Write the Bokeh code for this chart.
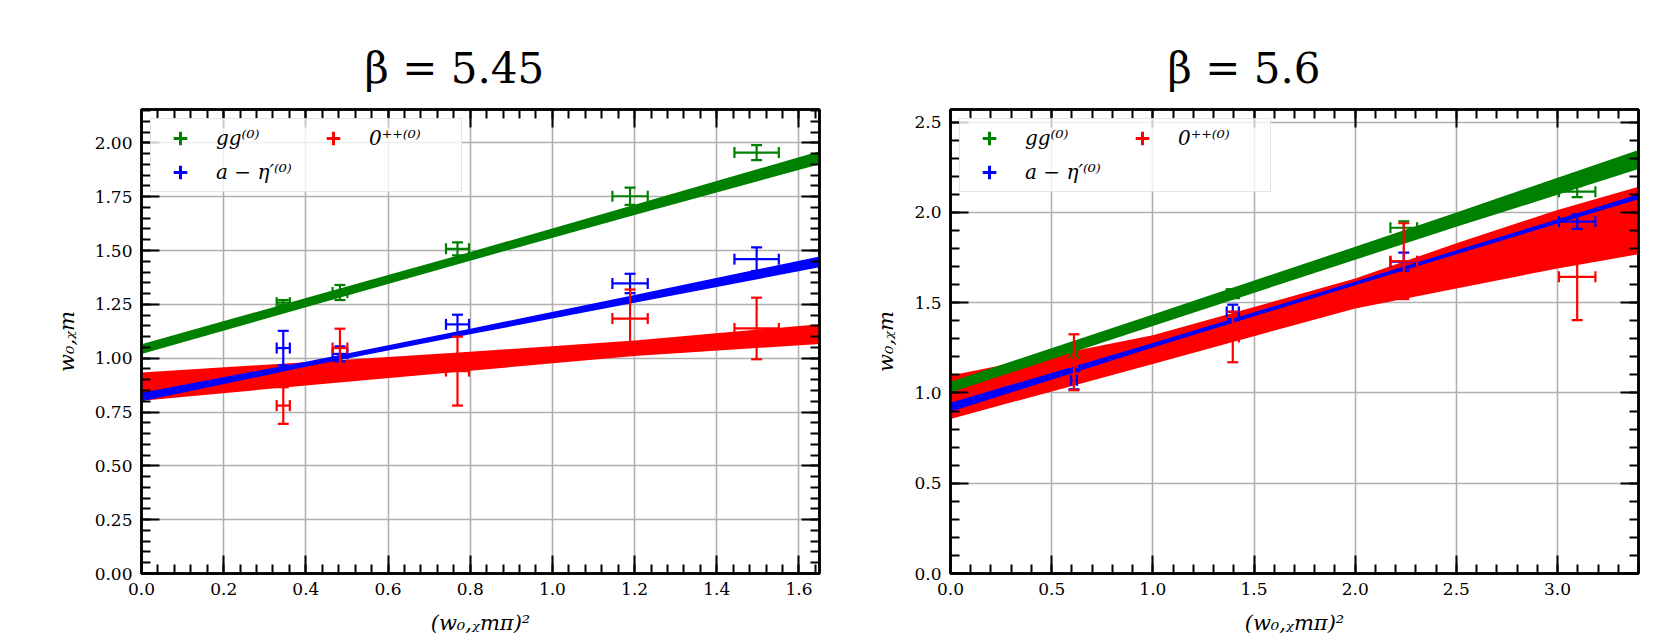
from bokeh.plotting import figure
from bokeh.layouts import row
from bokeh.models import (ColumnDataSource, Whisker, TeeHead, LinearAxis, SingleIntervalTicker,
                          PrintfTickFormatter, CustomJSTickFormatter, Range1d, Legend, LegendItem)
from bokeh.embed import file_html
from bokeh.resources import INLINE

# ---------------- data: beta = 5.45 ----------------
L_X = [0.345, 0.483, 0.769, 1.189, 1.497]
L_XERR = [0.016, 0.018, 0.028, 0.043, 0.054]
L_GG = [1.258, 1.305, 1.508, 1.752, 1.955]
L_GG_ERR = [0.012, 0.035, 0.03, 0.04, 0.035]
L_ETA = [1.047, 1.02, 1.157, 1.347, 1.46]
L_ETA_ERR = [0.08, 0.035, 0.045, 0.045, 0.055]
L_ZPP = [0.78, 1.047, 0.94, 1.184, 1.138]
L_ZPP_ERR = [0.085, 0.09, 0.16, 0.135, 0.143]

L_BAND_X = [0.0, 0.4, 0.8, 1.2, 1.65]
L_GG_LO = [1.019, 1.237, 1.453, 1.665, 1.901]
L_GG_HI = [1.065, 1.279, 1.493, 1.713, 1.961]
L_ETA_LO = [0.800, 0.960, 1.111, 1.258, 1.422]
L_ETA_HI = [0.840, 0.984, 1.137, 1.294, 1.472]
L_ZPP_LO = [0.802, 0.873, 0.942, 1.010, 1.066]
L_ZPP_HI = [0.934, 0.981, 1.030, 1.082, 1.158]

# ---------------- data: beta = 5.6 ----------------
R_X = [0.61, 1.395, 2.24, 3.097]
R_XERR = [0.015, 0.03, 0.066, 0.09]
R_GG = [1.225, 1.55, 1.915, 2.115]
R_GG_ERR = [0.03, 0.025, 0.035, 0.03]
R_ETA = [1.07, 1.449, 1.727, 1.949]
R_ETA_ERR = [0.05, 0.04, 0.05, 0.04]
R_ZPP = [1.17, 1.31, 1.73, 1.643]
R_ZPP_ERR = [0.155, 0.14, 0.21, 0.24]

R_BAND_X = [0.0, 1.0, 2.0, 2.5, 3.0, 3.4]
R_GG_LO = [1.002, 1.371, 1.738, 1.920, 2.098, 2.241]
R_GG_HI = [1.062, 1.435, 1.810, 2.000, 2.192, 2.345]
R_ETA_LO = [0.896, 1.252, 1.597, 1.768, 1.938, 2.073]
R_ETA_HI = [0.946, 1.276, 1.617, 1.790, 1.962, 2.101]
R_ZPP_LO = [0.856, 1.161, 1.468, 1.579, 1.690, 1.768]
R_ZPP_HI = [1.097, 1.319, 1.634, 1.829, 2.014, 2.142]

LABELS = ["gg⁽⁰⁾", "a − η′⁽⁰⁾", "0⁺⁺⁽⁰⁾"]
TITLES = ["β = 5.45", "β = 5.6"]
X_LABEL = "(w₀,ᵪmπ)²"
Y_LABEL = "w₀,ᵪm"

GREEN, BLUE, RED = "#008000", "#0000ff", "#ff0000"
FONT = "DejaVu Serif"


def style_axis(ax, interval, fmt, show_labels, standoff=9):
    ax.ticker = SingleIntervalTicker(interval=interval, num_minor_ticks=5)
    ax.major_tick_in = 18
    ax.major_tick_out = 0
    ax.minor_tick_in = 9
    ax.minor_tick_out = 0
    ax.major_tick_line_width = 2
    ax.minor_tick_line_width = 2
    ax.major_tick_line_color = "black"
    ax.minor_tick_line_color = "black"
    ax.axis_line_width = 2.5
    ax.axis_line_color = "black"
    ax.major_label_standoff = standoff
    if show_labels:
        ax.formatter = PrintfTickFormatter(format=fmt)
        ax.major_label_text_font = FONT
        ax.major_label_text_font_size = "17px"
        ax.major_label_text_color = "black"
    else:
        ax.formatter = CustomJSTickFormatter(code="return ''")
        ax.major_label_text_font_size = "1px"


def panel(title, title_offset, xmax, ymax, xint, yint, xfmt, yfmt,
          x, xerr, ys, yerrs, band_x, los, his, width, bl, br):
    p = figure(width=width, height=643, x_range=Range1d(0, xmax), y_range=Range1d(0, ymax),
               output_backend="svg", toolbar_location=None,
               min_border_left=bl, min_border_right=br, min_border_top=109, min_border_bottom=70)
    p.title.text = title
    p.title.align = "left"
    p.title.text_font = FONT
    p.title.text_font_size = "42px"
    p.title.text_font_style = "normal"
    p.title.text_color = "black"
    p.title.offset = title_offset
    p.title.standoff = 33

    bottom = p.xaxis[0]
    left = p.yaxis[0]
    style_axis(bottom, xint, xfmt, True)
    style_axis(left, yint, yfmt, True)
    bottom.axis_label = X_LABEL
    left.axis_label = Y_LABEL
    for ax in (bottom, left):
        ax.axis_label_text_font = FONT
        ax.axis_label_text_font_size = "21px"
        ax.axis_label_text_font_style = "italic"
        ax.axis_label_text_color = "black"
        ax.axis_label_standoff = 13

    top = LinearAxis()
    style_axis(top, xint, xfmt, False, standoff=8)
    right = LinearAxis()
    style_axis(right, yint, yfmt, False, standoff=0)
    p.add_layout(top, "above")
    p.add_layout(right, "right")

    p.grid.grid_line_color = "#b0b0b0"
    p.grid.grid_line_width = 1.6
    p.outline_line_color = "black"
    p.outline_line_width = 2.5

    colors = [GREEN, BLUE, RED]
    # bands: red first, then green and blue on top
    for i in (2, 0, 1):
        p.varea(x=band_x, y1=los[i], y2=his[i], color=colors[i])

    for y, ye, c in zip(ys, yerrs, colors):
        src = ColumnDataSource(dict(
            x=x, y=y,
            ylo=[a - b for a, b in zip(y, ye)], yhi=[a + b for a, b in zip(y, ye)],
            xlo=[a - b for a, b in zip(x, xerr)], xhi=[a + b for a, b in zip(x, xerr)]))
        for dim, base, lo, hi in (("height", "x", "ylo", "yhi"), ("width", "y", "xlo", "xhi")):
            w = Whisker(source=src, base=base, lower=lo, upper=hi, dimension=dim,
                        line_color=c, line_width=2.2, level="annotation",
                        upper_head=TeeHead(size=11, line_color=c, line_width=2.2),
                        lower_head=TeeHead(size=11, line_color=c, line_width=2.2))
            p.add_layout(w)

    nan = float("nan")
    icons = [p.scatter(x=[nan], y=[nan], marker="cross", size=17, line_color=c, line_width=3)
             for c in colors]
    legend = Legend(items=[LegendItem(label=LABELS[i], renderers=[icons[i]]) for i in range(3)],
                    ncols=2, location="top_left")
    legend.label_text_font = FONT
    legend.label_text_font_size = "20px"
    legend.label_text_font_style = "italic"
    legend.label_text_color = "black"
    legend.glyph_width = 54
    legend.glyph_height = 34
    legend.label_height = 24
    legend.label_width = 90
    legend.label_standoff = 9
    legend.spacing = 0
    legend.padding = 2
    legend.margin = 9
    legend.border_line_color = "#cccccc"
    legend.border_line_width = 1.5
    legend.background_fill_alpha = 0.8
    p.add_layout(legend)
    return p


p1 = panel(TITLES[0], 223, 1.65, 2.155, 0.2, 0.25, "%.1f", "%.2f",
           L_X, L_XERR, [L_GG, L_ETA, L_ZPP], [L_GG_ERR, L_ETA_ERR, L_ZPP_ERR],
           L_BAND_X, [L_GG_LO, L_ETA_LO, L_ZPP_LO], [L_GG_HI, L_ETA_HI, L_ZPP_HI],
           832, 141, 13)
p2 = panel(TITLES[1], 217, 3.4, 2.57, 0.5, 0.5, "%.1f", "%.1f",
           R_X, R_XERR, [R_GG, R_ETA, R_ZPP], [R_GG_ERR, R_ETA_ERR, R_ZPP_ERR],
           R_BAND_X, [R_GG_LO, R_ETA_LO, R_ZPP_LO], [R_GG_HI, R_ETA_HI, R_ZPP_HI],
           833, 118, 27)

layout = row(p1, p2)
open("out.html", "w").write(file_html(layout, INLINE))
